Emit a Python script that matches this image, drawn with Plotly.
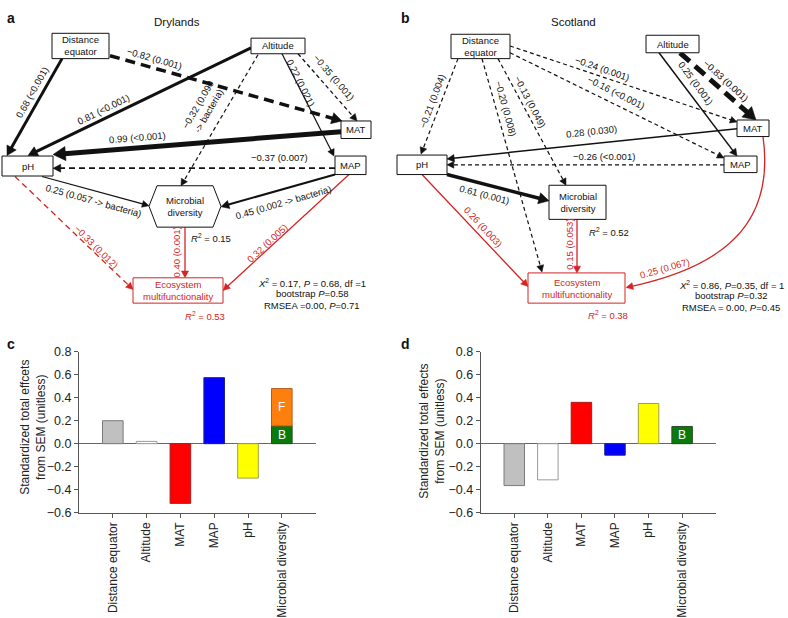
import math
import plotly.graph_objects as go

# ---------------- data (bar charts) ----------------
categories = ["Distance equator", "Altitude", "MAT", "MAP", "pH", "Microbial diversity"]
drylands_effects = [0.20, 0.02, -0.52, 0.575, -0.30]      # first five predictors
drylands_microbial_B = 0.155                               # bacteria part
drylands_microbial_F = 0.325                               # fungi part (stacked)
scotland_effects = [-0.365, -0.315, 0.36, -0.10, 0.35]
scotland_microbial_B = 0.15
ytick_vals = [-0.6, -0.4, -0.2, 0.0, 0.2, 0.4, 0.6, 0.8]
bar_fill = ["#c0c0c0", "#ffffff", "#ff0000", "#0000ff", "#ffff00"]
bar_edge = ["#7a7a7a", "#9a9a9a", "#a02020", "#20208a", "#a0a040"]
green, orange = "#0b7a0b", "#ff7f0e"

FONT = "Liberation Sans, Arial, sans-serif"
RED = "#d42424"
BLK = "#111111"

shapes, annotations = [], []


def text(x, y, s, size=9.5, color=BLK, angle=0, xref="x", yref="y", **kw):
    annotations.append(dict(x=x, y=y, xref=xref, yref=yref, text=s, showarrow=False,
                            textangle=angle, xanchor=kw.get("xanchor", "center"),
                            yanchor="middle", font=dict(family=FONT, size=size, color=color)))


def box(x0, y0, x1, y1, label, color=BLK):
    shapes.append(dict(type="rect", xref="x", yref="y", x0=x0, y0=y0, x1=x1, y1=y1,
                       line=dict(color=color, width=1), fillcolor="white"))
    text((x0 + x1) / 2, (y0 + y1) / 2, label, color=color)


def head(x1, y1, ux, uy, w, color):
    hl = 5 + 1.5 * w
    hw = 2.3 + 1.0 * w
    bx, by = x1 - ux * hl, y1 - uy * hl
    px, py = -uy * hw, ux * hw
    shapes.append(dict(type="path", xref="x", yref="y",
                       path=f"M{x1},{y1} L{bx+px},{by+py} L{bx-px},{by-py} Z",
                       fillcolor=color, line=dict(color=color, width=0.5)))
    return bx, by


def edge(x0, y0, x1, y1, w, dash, color, label, lx, ly, angle=None):
    dx, dy = x1 - x0, y1 - y0
    L = math.hypot(dx, dy)
    ux, uy = dx / L, dy / L
    bx, by = head(x1, y1, ux, uy, w, color)
    shapes.append(dict(type="line", xref="x", yref="y", x0=x0, y0=y0,
                       x1=bx + ux, y1=by + uy,
                       line=dict(color=color, width=w, dash=dash)))
    if angle is None:
        angle = math.degrees(math.atan2(dy, dx))
        if angle > 90:
            angle -= 180
        elif angle < -90:
            angle += 180
    text(lx, ly, label, color=color, angle=angle)


THIN = "4px,3px"
MED = "6px,4px"
THICK = "10px,6px"
VTHICK = "13px,7px"

# ---------------- panel a : Drylands ----------------
text(5, 11, "<b>a</b>", size=14, xanchor="left")
text(177, 15, "Drylands", size=11.5)

edge(62, 53, 7, 152.5, 3, "solid", BLK, "0.68 (<0.001)", 32, 88)
edge(251, 42, 28, 152.5, 3, "solid", BLK, "0.81 (<0.001)", 103, 105)
edge(341, 128, 53, 151.5, 5, "solid", BLK, "0.99 (<0.001)", 137, 134)
edge(110, 50, 342, 117, 3.5, THICK, BLK, "\u22120.82 (0.001)", 154, 53)
edge(298, 48, 357, 117, 1.3, THIN, BLK, "\u22120.35 (0.001)", 334, 72)
edge(282, 48, 334, 153, 1.2, "solid", BLK, "0.22 (0.021)", 301, 77)
edge(258, 49, 181, 183.5, 1.2, THIN, BLK, "\u22120.32 (0.090<br>-> bacteria)", 203, 103)
edge(335, 165.5, 53, 165.5, 1.8, MED, BLK, "\u22120.37 (0.007)", 279, 155)
edge(42, 174, 149, 204, 1.2, "solid", BLK, "0.25 (0.057 -> bacteria)", 93, 199)
edge(335, 172, 221, 205, 2, "solid", BLK, "0.45 (0.002 -> bacteria)", 283, 201)
edge(15, 174, 133, 290, 1.3, MED, RED, "\u22120.33 (0.012)", 96, 246)
edge(185, 226, 185, 278, 1.3, "solid", RED, "0.40 (0.001)", 176, 252, angle=-90)
edge(349, 172, 223, 291, 1.3, "solid", RED, "0.32 (0.005)", 267, 243)

box(52, 27, 109, 53, "Distance<br>equator")
box(251, 32, 305, 48, "Altitude")
box(341, 117, 371, 135, "MAT")
box(2, 153, 53, 173.5, "pH")
box(335, 153, 366, 172, "MAP")
shapes.append(dict(type="path", xref="x", yref="y",
                   path="M149,204.5 L157,183.5 L213,183.5 L221,204.5 L213,226 L157,226 Z",
                   line=dict(color=BLK, width=1), fillcolor="white"))
text(185, 204.5, "Microbial<br>diversity")
box(133, 278, 223, 304, "Ecosystem<br>multifunctionality", color=RED)

text(211, 237, "<i>R</i><sup>2</sup> = 0.15")
text(205, 317, "<i>R</i><sup>2</sup> = 0.53", color=RED)
text(312, 283, "<i>X</i><sup>2</sup> = 0.17, <i>P</i> = 0.68, df =1")
text(312, 294.5, "bootstrap <i>P</i>=0.58")
text(312, 306, "RMSEA =0.00, <i>P</i>=0.71")

# ---------------- panel b : Scotland ----------------
text(399, 11, "<b>b</b>", size=14, xanchor="left")
text(573, 15, "Scotland", size=11.5)

edge(458, 53, 421, 151, 1.2, THIN, BLK, "\u22120.21 (0.004)", 432, 97)
edge(482, 53, 542, 272, 1.2, THIN, BLK, "\u22120.20 (0.008)", 506, 104)
edge(498, 53, 566, 183, 1.2, THIN, BLK, "\u22120.13 (0.049)", 530, 97)
edge(510, 40, 737, 118, 1.2, THIN, BLK, "\u22120.24 (0.001)", 602, 63)
edge(510, 47, 724, 155, 1.2, THIN, BLK, "\u22120.16 (<0.001)", 616, 88)
edge(680, 47, 756, 116, 5, VTHICK, BLK, "\u22120.83 (0.001)", 726, 75)
edge(659, 47, 737, 153, 1.5, "solid", BLK, "0.25 (0.001)", 695, 78)
edge(737, 125, 447, 156, 1.5, "solid", BLK, "0.28 (0.030)", 591, 128)
edge(724, 162, 447, 162, 1.2, THIN, BLK, "\u22120.26 (<0.001)", 604, 153)
edge(447, 172, 549, 199, 3.5, "solid", BLK, "0.61 (0.001)", 484, 192)
edge(422, 172, 528, 287, 1.3, "solid", RED, "0.26 (0.003)", 483, 225)
edge(577, 218, 577, 273, 1.3, "solid", RED, "0.15 (0.053)", 570, 244, angle=-90)

# curved MAT -> Ecosystem multifunctionality
cx0, cy0, c1x, c1y, c2x, c2y, cx1, cy1 = 763, 133, 776, 228, 716, 268, 626, 288
L = math.hypot(cx1 - c2x, cy1 - c2y)
ux, uy = (cx1 - c2x) / L, (cy1 - c2y) / L
bx, by = head(cx1, cy1, ux, uy, 1.3, RED)
shapes.append(dict(type="path", xref="x", yref="y",
                   path=f"M{cx0},{cy0} C{c1x},{c1y} {c2x},{c2y} {bx+ux},{by+uy}",
                   line=dict(color=RED, width=1.3)))
text(664, 268, "0.25 (0.067)", color=RED, angle=-16)

box(451, 28, 510, 53, "Distance<br>equator")
box(646, 29, 699, 47, "Altitude")
box(737, 116, 769, 133, "MAT")
box(397, 152, 447, 172, "pH")
box(724, 153, 757, 170, "MAP")
box(549, 183, 606, 218, "Microbial<br>diversity")
box(528, 273, 625, 304, "Ecosystem<br>multifunctionality", color=RED)

text(609, 231, "<i>R</i><sup>2</sup> = 0.52")
text(608, 316, "<i>R</i><sup>2</sup> = 0.38", color=RED)
text(731, 285, "<i>X</i><sup>2</sup> = 0.86, <i>P</i>=0.35, df = 1")
text(731, 296.5, "bootstrap <i>P</i>=0.32")
text(731, 308, "RMSEA = 0.00, <i>P</i>=0.45")

# ---------------- panels c, d labels ----------------
text(5, 346, "<b>c</b>", size=14, xanchor="left")
text(399, 346, "<b>d</b>", size=14, xanchor="left")
text(33, 432, "Standardized total effcets<br>from SEM (unitless)", size=12, color="#222", angle=-90)
text(432, 436, "Standardized total effects<br>from SEM (unitless)", size=12, color="#222", angle=-90)

pos = list(range(len(categories)))
# B / F segment letters placed at the middle of each stacked segment
text(pos[5], drylands_microbial_B / 2, "B", size=12, color="white", xref="x2", yref="y2")
text(pos[5], drylands_microbial_B + drylands_microbial_F / 2, "F", size=12, color="white",
     xref="x2", yref="y2")
text(pos[5], scotland_microbial_B / 2, "B", size=12, color="white", xref="x3", yref="y3")

fig = go.Figure()
# invisible trace for the pixel-space diagram axis
fig.add_trace(go.Scatter(x=[0], y=[0], mode="markers", marker=dict(opacity=0),
                         hoverinfo="skip", showlegend=False, xaxis="x", yaxis="y"))

BW = 0.61
# panel c
fig.add_trace(go.Bar(x=pos[:5], y=drylands_effects, width=BW, xaxis="x2", yaxis="y2",
                     marker=dict(color=bar_fill, line=dict(color=bar_edge, width=1)),
                     showlegend=False))
fig.add_trace(go.Bar(x=[pos[5]], y=[drylands_microbial_B], width=BW, xaxis="x2", yaxis="y2",
                     marker=dict(color=green, line=dict(color="#2a4a2a", width=1)),
                     showlegend=False))
fig.add_trace(go.Bar(x=[pos[5]], y=[drylands_microbial_F], width=BW, xaxis="x2", yaxis="y2",
                     marker=dict(color=orange, line=dict(color="#b06020", width=1)),
                     showlegend=False))
# panel d
fig.add_trace(go.Bar(x=pos[:5], y=scotland_effects, width=BW, xaxis="x3", yaxis="y3",
                     marker=dict(color=bar_fill, line=dict(color=bar_edge, width=1)),
                     showlegend=False))
fig.add_trace(go.Bar(x=[pos[5]], y=[scotland_microbial_B], width=BW, xaxis="x3", yaxis="y3",
                     marker=dict(color=green, line=dict(color="#2a4a2a", width=1)),
                     showlegend=False))

W, H = 788, 618
ydom = [1 - 519 / H, 1 - 354 / H]
xcat = dict(range=[-1, 6], tickvals=pos, ticktext=categories, tickangle=-90,
            showline=True, linecolor="#555", linewidth=1, ticks="outside", ticklen=4,
            tickcolor="#555", showgrid=False, zeroline=False,
            tickfont=dict(family=FONT, size=12, color="#222"), fixedrange=True)
yval = dict(range=[-0.6, 0.8], tickvals=ytick_vals, tickformat=".1f", domain=ydom,
            showline=True, linecolor="#555", linewidth=1, ticks="outside", ticklen=4,
            tickcolor="#555", showgrid=False, zeroline=True, zerolinecolor="#666",
            zerolinewidth=1, tickfont=dict(family=FONT, size=12.5, color="#222"),
            fixedrange=True)

fig.update_layout(
    width=W, height=H, margin=dict(l=0, r=0, t=0, b=0),
    paper_bgcolor="white", plot_bgcolor="rgba(0,0,0,0)",
    barmode="relative", bargap=0.39,
    xaxis=dict(domain=[0, 1], range=[0, W], visible=False, fixedrange=True),
    yaxis=dict(domain=[0, 1], range=[H, 0], visible=False, fixedrange=True),
    xaxis2=dict(domain=[79 / W, 315.6 / W], anchor="y2", **xcat),
    yaxis2=dict(anchor="x2", **yval),
    xaxis3=dict(domain=[480.7 / W, 715.7 / W], anchor="y3", **xcat),
    yaxis3=dict(anchor="x3", **yval),
    shapes=shapes, annotations=annotations,
    font=dict(family=FONT),
)

fig.write_html("out.html", config={"displayModeBar": False},
               post_script="document.body.style.margin='0';")
